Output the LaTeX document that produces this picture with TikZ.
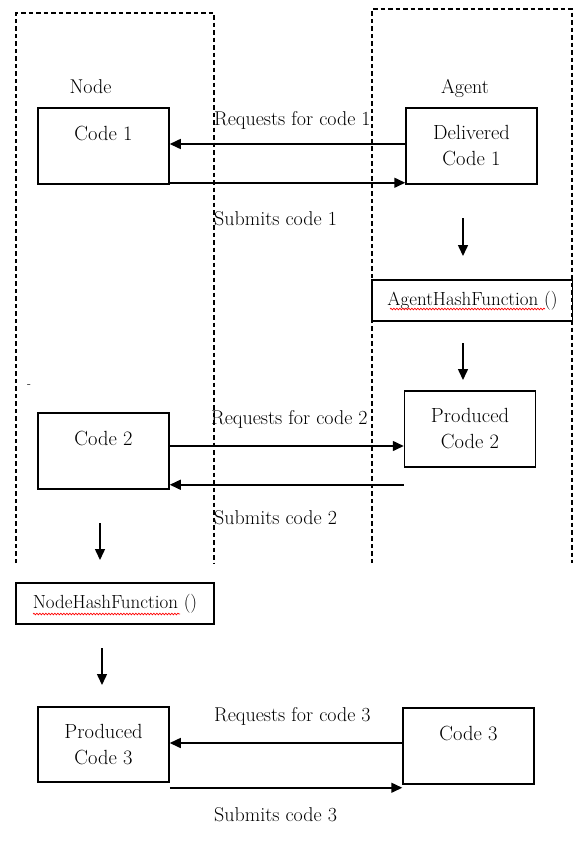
\documentclass[tikz,border=0pt]{standalone}
\usetikzlibrary{arrows.meta,decorations.pathmorphing}
\begin{document}
\begin{tikzpicture}[x=1pt,y=-1pt,
  box/.style={draw,line width=1.5pt,minimum width=131pt,minimum height=76pt,align=center,inner sep=0pt,font=\fontsize{20.5}{26}\selectfont},
  hashbox/.style={draw,line width=1.5pt,minimum height=41pt,inner sep=0pt,font=\fontsize{19}{22}\selectfont},
  lbl/.style={anchor=west,inner sep=0pt,font=\fontsize{20}{22}\selectfont},
  head/.style={inner sep=0pt,font=\fontsize{20}{22}\selectfont},
  arr/.style={line width=1.5pt,-{Triangle[length=11pt,width=10pt]}},
  lane/.style={dash pattern=on 4.5pt off 3pt,line width=1.2pt},
  wavy/.style={red,line width=0.7pt,decorate,decoration={snake,amplitude=0.8pt,segment length=3pt}}]
\useasboundingbox (0,0) rectangle (573,852);

% swim lanes
\draw[lane] (16,563) -- (16,13) -- (214,13) -- (214,563);
\draw[lane] (372,563) -- (372,9) -- (572,9) -- (572,563);

% headings
\node[head] (hnode) at (90.5,87) {Node};
\node[head] (hagent) at (465,88) {Agent};
\node[inner sep=0pt,font=\fontsize{12}{14}\selectfont] (dash) at (29,386) {-};

% boxes
\node[box] (c1) at (103.5,146) {Code 1\\\mbox{}};
\node[box] (dc1) at (471.5,146) {Delivered\\Code 1};
\node[hashbox,minimum width=201pt] (ah) at (472.5,300.5) {AgentHashFunction ()};
\node[box] (p2) at (470,429) {Produced\\Code 2};
\node[box] (c2) at (103.5,451) {Code 2\\\mbox{}};
\node[hashbox,minimum width=198pt] (nh) at (115,603.5) {NodeHashFunction ()};
\node[box,minimum height=75pt] (pc3) at (103.5,744.5) {Produced\\Code 3};
\node[box] (c3) at (468.5,746) {Code 3\\\mbox{}};

% spell-check underlines
\draw[wavy] (390,309) -- (545,309);
\draw[wavy] (33,614) -- (180,614);

% exchange 1
\draw[arr] ([yshift=2pt]dc1.west) -- ([yshift=2pt]c1.east);
\draw[arr] ([yshift=2pt]c1.south east) -- ([yshift=2pt]c1.south east -| dc1.west);
\node[lbl] (lr1) at (214,120) {Requests for code 1};
\node[lbl] (ls1) at (214,219) {Submits code 1};

% agent flow
\coordinate (a1s) at (463,218);
\coordinate (a1e) at (463,256);
\draw[arr] (a1s) -- (a1e);
\coordinate (a2s) at (463,343);
\coordinate (a2e) at (463,380);
\draw[arr] (a2s) -- (a2e);

% exchange 2
\draw[arr] ([yshift=5pt]c2.east) -- ([yshift=5pt]c2.east -| p2.west);
\draw[arr] ([yshift=5pt]c2.south east -| p2.west) -- ([yshift=5pt]c2.south east);
\node[lbl] (lr2) at (211,419) {Requests for code 2};
\node[lbl] (ls2) at (214,518) {Submits code 2};

% node flow
\coordinate (n1s) at (100,523);
\coordinate (n1e) at (100,560);
\draw[arr] (n1s) -- (n1e);
\coordinate (n2s) at (102,648);
\coordinate (n2e) at (102,685);
\draw[arr] (n2s) -- (n2e);

% exchange 3
\draw[arr] ([yshift=3pt]c3.west) -- ([yshift=3pt]c3.west -| pc3.east);
\draw[arr] ([yshift=-5pt]pc3.south east) -- ([yshift=-5pt]pc3.south east -| c3.west);
\node[lbl] (lr3) at (214,716) {Requests for code 3};
\node[lbl] (ls3) at (214,815) {Submits code 3};
\end{tikzpicture}
\end{document}
